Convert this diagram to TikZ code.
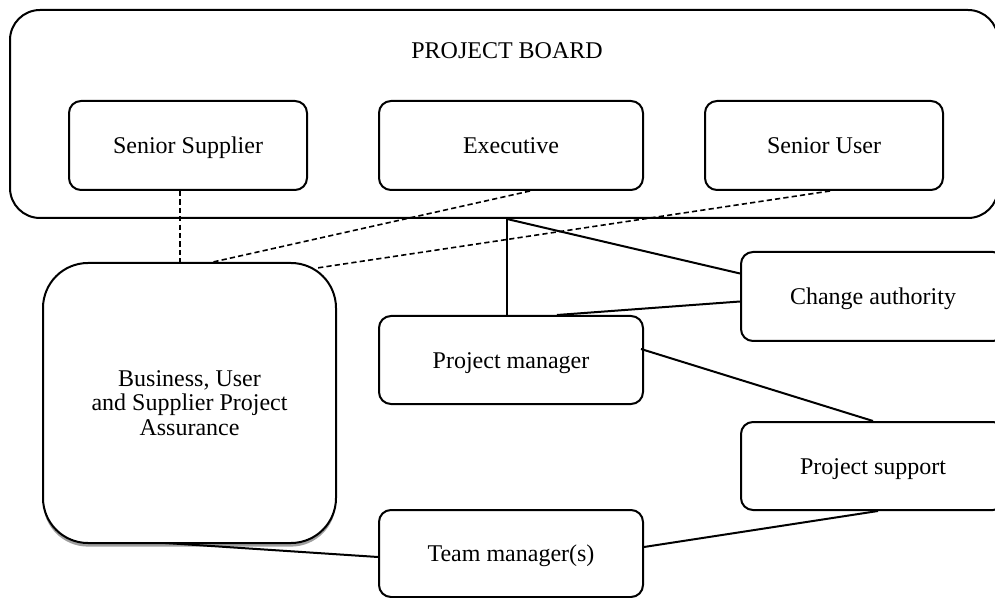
\documentclass[tikz,border=0pt]{standalone}
\usepackage{fontspec}
\setmainfont{Liberation Serif}
\usetikzlibrary{calc,shadows}

\begin{document}
\begin{tikzpicture}[x=0.5pt,y=-0.5pt,
  every node/.style={font=\fontsize{12}{12.3}\selectfont},
  box/.style={draw,line width=1pt,rounded corners=6pt,minimum width=132pt,minimum height=44.5pt,inner sep=0pt,align=center},
  oneline/.style={box,text height=9.8pt,text depth=1.4pt},
  dashline/.style={line width=0.8pt,dash pattern=on 2.6pt off 1.6pt},
  link/.style={line width=1pt}]
\useasboundingbox (0,0) rectangle (995,598);
\node[box,rounded corners=15pt,minimum width=494pt,minimum height=104pt] (board) at (504,114) {};
\node (title) at (507,51) {PROJECT BOARD};
\node[oneline,minimum width=119pt] (sup) at (188,145.5) {Senior Supplier};
\node[oneline] (exe) at (511,145.5) {Executive};
\node[oneline,minimum width=119pt] (usr) at (824,145.5) {Senior User};
\node[box,fill=white,rounded corners=22.5pt,minimum width=146.5pt,minimum height=140pt,
  drop shadow={shadow xshift=0pt,shadow yshift=-1.8pt,fill=gray!75,opacity=1}] (assur) at (189.5,403)
  {Business, User\\and Supplier Project\\Assurance};
\node[oneline,minimum height=44pt] (pm) at (511,360) {Project manager};
\node[oneline,minimum height=43.5pt] (tm) at (511,553.5) {Team manager(s)};
\node[oneline] (ca) at (873,296.5) {Change authority};
\node[oneline,minimum height=44pt] (ps) at (873,466) {Project support};
\coordinate (j) at ($(board.south)+(3,0)$);
\draw[dashline] ($(sup.south)+(-8,0)$) -- ($(sup.south |- assur.north)+(-8,0)$);
\draw[dashline] ($(exe.south)+(19,0)$) -- ($(assur.north)+(23.5,0)$);
\draw[dashline] ($(usr.south)+(6,0)$) -- ($(assur.north east)+(-20,6)$);
\draw[link] (j) -- (j |- pm.north);
\draw[link] (j) -- ($(ca.west)+(0,-23)$);
\draw[link] ($(ca.west)+(0,5)$) -- ($(pm.north)+(46,0)$);
\draw[link] ($(pm.east)+(-3,-11)$) -- (ps.north);
\draw[link] ($(ps.south)+(5,0)$) -- ($(tm.east)+(0,-6.5)$);
\draw[link] ($(assur.south)+(-24,-1)$) -- ($(tm.west)+(0,3.5)$);
\end{tikzpicture}
\end{document}
